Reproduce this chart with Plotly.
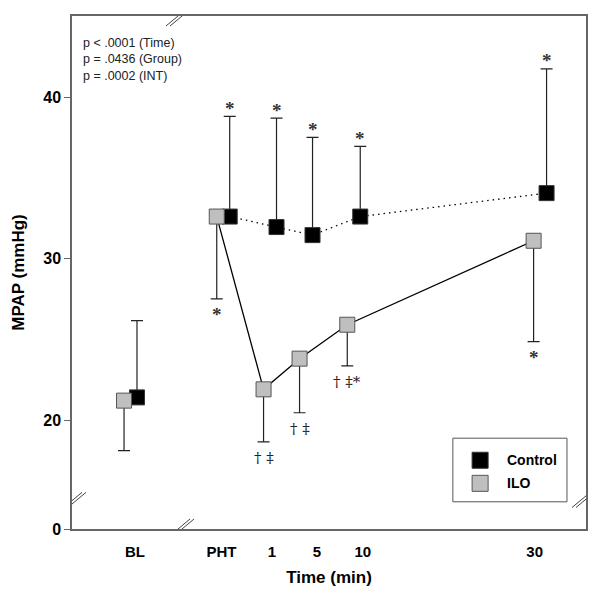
import plotly.graph_objects as go

# time points (axis position roughly in minutes, BL/PHT placed left of 0)
time_labels = ["BL", "PHT", "1", "5", "10", "30"]
time_pos = [-14.5, -4.2, 1, 5, 10.3, 31]
label_pos = [-14.0, -4.4, 1.2, 6.2, 11.3, 30.4]
offset = 0.72

ctrl_mean = [21.4, 32.6, 31.95, 31.45, 32.6, 34.05]
ctrl_sd_up = [4.75, 6.2, 6.75, 6.05, 4.35, 7.7]
ilo_mean = [21.2, 32.6, 21.9, 23.8, 25.9, 31.1]
ilo_sd_down = [3.1, 5.1, 3.25, 3.35, 2.55, 6.25]

ctrl_sig = ["", "*", "*", "*", "*", "*"]
ilo_sig = ["", "*", "† ‡", "† ‡", "† ‡*", "*"]

stats_text = ["p < .0001 (Time)", "p = .0436 (Group)", "p = .0002 (INT)"]

ytick_vals = [13.25, 20, 30, 40]
ytick_text = ["0", "20", "30", "40"]

groups = ["Control", "ILO"]
group_fill = ["black", "#bfbfbf"]
group_edge = ["#333333", "#555555"]

axis_col = "#666666"
sym_font = dict(family="Liberation Serif", size=19, color="#333", weight="bold")

x_ctrl = [p + offset for p in time_pos]
x_ilo = [p - offset for p in time_pos]

fig = go.Figure()

# connecting lines (BL is not connected)
fig.add_trace(go.Scatter(x=x_ctrl[1:], y=ctrl_mean[1:], mode="lines",
                         line=dict(color="black", width=1.3, dash="1.5px,4px"),
                         showlegend=False, hoverinfo="skip"))
fig.add_trace(go.Scatter(x=x_ilo[1:], y=ilo_mean[1:], mode="lines",
                         line=dict(color="black", width=1.3),
                         showlegend=False, hoverinfo="skip"))

fig.add_trace(go.Scatter(
    x=x_ctrl, y=ctrl_mean, mode="markers", name=groups[0], showlegend=False,
    marker=dict(symbol="square", size=15, color=group_fill[0],
                line=dict(color=group_edge[0], width=1)),
    error_y=dict(type="data", symmetric=False, array=ctrl_sd_up,
                 arrayminus=[0] * len(ctrl_mean), color="#222222",
                 thickness=1.2, width=6),
))
fig.add_trace(go.Scatter(
    x=x_ilo, y=ilo_mean, mode="markers", name=groups[1], showlegend=False,
    marker=dict(symbol="square", size=15, color=group_fill[1],
                line=dict(color=group_edge[1], width=1)),
    error_y=dict(type="data", symmetric=False, array=[0] * len(ilo_mean),
                 arrayminus=ilo_sd_down, color="#222222",
                 thickness=1.2, width=6),
))

# significance marks
for x, m, s, t in zip(x_ctrl, ctrl_mean, ctrl_sd_up, ctrl_sig):
    if t:
        fig.add_annotation(x=x, y=m + s, text=t, showarrow=False, yshift=8,
                           font=sym_font)
for x, m, s, t in zip(x_ilo, ilo_mean, ilo_sd_down, ilo_sig):
    if t:
        fig.add_annotation(x=x, y=m - s, text=t, showarrow=False, yshift=-16,
                           font=sym_font if t == "*" else
                           dict(family="DejaVu Serif", size=15, color="#222"))

fig.add_annotation(x=0.018, y=0.965, xref="paper", yref="paper",
                   text="<br>".join(stats_text), showarrow=False,
                   xanchor="left", yanchor="top", align="left",
                   font=dict(family="Liberation Sans", size=12.5, color="#222"))

# legend drawn by hand
fig.add_shape(type="rect", xref="paper", yref="paper",
              x0=0.741, x1=0.963, y0=0.053, y1=0.177,
              line=dict(color="#555555", width=1), fillcolor="white")
for i, (g, fc, ec) in enumerate(zip(groups, group_fill, group_edge)):
    yy = 0.134 - i * 0.045
    fig.add_shape(type="rect", xref="paper", yref="paper",
                  xsizemode="pixel", ysizemode="pixel", xanchor=0.794, yanchor=yy,
                  x0=-8, x1=8, y0=-8, y1=8,
                  line=dict(color=ec, width=1), fillcolor=fc)
    fig.add_annotation(x=0.842, y=yy, xref="paper", yref="paper", text=g,
                       showarrow=False, xanchor="left", yanchor="middle",
                       font=dict(family="Liberation Sans", size=14, weight="bold"))

# axis break marks
def brk(x, y, xr="x", yr="y"):
    for d in (-2, 2):
        fig.add_shape(type="line", xref=xr, yref=yr, xsizemode="pixel",
                      ysizemode="pixel", xanchor=x, yanchor=y,
                      x0=-12 + d, x1=12 + d, y0=-10, y1=10,
                      line=dict(color="#444", width=1))

brk(-9, 45.02)
brk(-9, 13.25)
brk(-21, 14.9)
brk(36.1, 15.2)

fig.update_layout(
    width=600, height=601,
    margin=dict(l=64, r=22, t=8, b=80),
    plot_bgcolor="white", paper_bgcolor="white",
    font=dict(family="Liberation Sans", color="black"),
    showlegend=False,
)
fig.update_xaxes(range=[-21, 36.1], tickvals=label_pos, ticktext=time_labels,
                 showline=True, linecolor=axis_col, linewidth=1.5, mirror=True,
                 showgrid=False, zeroline=False, ticks="", automargin=False,
                 ticklabelstandoff=8,
                 tickfont=dict(size=15, weight="bold"),
                 title=dict(text="Time (min)", font=dict(size=17, weight="bold"),
                            standoff=12))
fig.update_yaxes(range=[13.25, 45.02], tickvals=ytick_vals, ticktext=ytick_text,
                 showline=True, linecolor=axis_col, linewidth=1.5, mirror=True,
                 showgrid=False, zeroline=False, ticks="outside", ticklen=6,
                 tickcolor=axis_col, automargin=False,
                 tickfont=dict(size=16, weight="bold"),
                 title=dict(text="MPAP (mmHg)", font=dict(size=17, weight="bold"),
                            standoff=14))

fig.write_html("out.html")
